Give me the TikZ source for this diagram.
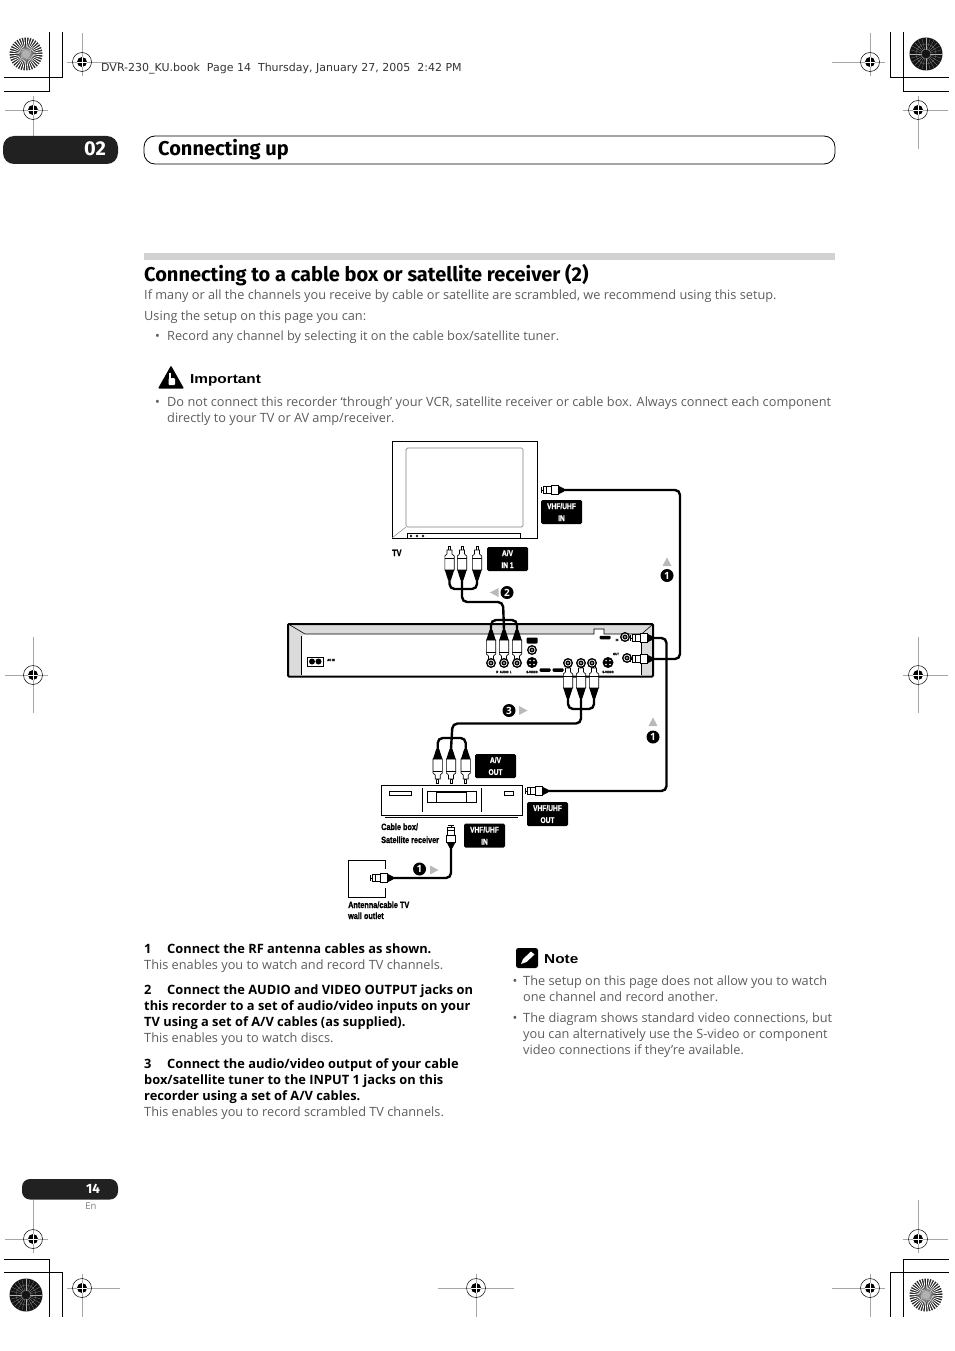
\documentclass[tikz,border=0pt]{standalone}
\usepackage{fontspec}
\setmainfont{Open Sans}
\newfontfamily\headfont{Fira Sans}
\newfontfamily\slugfont{DejaVu Sans}
\newfontfamily\widefont[FakeStretch=1.18]{Liberation Sans}
\newfontfamily\condfont[FakeStretch=0.8,FakeBold=1.2]{Liberation Sans Bold}
\usetikzlibrary{arrows.meta, positioning, calc, backgrounds}

\definecolor{inkbody}{gray}{0.36}
\definecolor{tabblack}{gray}{0.13}
\definecolor{panelgray}{gray}{0.86}

\tikzset{
    burstlight/.pic={
        \fill[black!85] (0,0) circle (16.5);
        \foreach \a in {0,10,...,350} {
            \fill[white] (0,0) -- (\a:17) arc[start angle=\a, end angle=\a+4, radius=17] -- cycle;
        }
        \fill[gray!60] (0,0) circle (4);
    },
    burstdark/.pic={
        \fill[black!92] (0,0) circle (16.5);
        \foreach \a in {0,15,...,345} {
            \draw[gray!60, line width=0.15pt] (\a:4) -- (\a:16);
        }
        \draw[gray, line width=0.25pt] (0,0) circle (5) (0,0) circle (10);
    },
    rcaplug/.pic={
        \draw[plugline, fill=white] (-1,0) rectangle (1,4);
        \draw[plugline, fill=white] (-2.5,4) -- (2.5,4) -- (2.5,8) -- (4.7,10) -- (4.7,24) -- (-4.7,24) -- (-4.7,10) -- (-2.5,8) -- cycle;
        \draw[plugline] (-4.7,12) -- (4.7,12);
        \fill (-4.7,24) -- (4.7,24) -- (1.5,34) -- (-1.5,34) -- cycle;
        \coordinate (-tail) at (0,34);
    },
    coaxplug/.pic={
        \draw[plugline] (0,-3) -- (0,3) (0,0) -- (2,0);
        \draw[plugline, fill=white] (2,-3.5) rectangle (10,3.5);
        \draw[plugline] (5,-3.5) -- (5,3.5);
        \draw[plugline, fill=white] (10,-4.5) -- (17,-4.5) -- (17,4.5) -- (10,4.5) -- cycle;
        \fill (17,-4.5) -- (17,4.5) -- (23,1.5) -- (23,-1.5) -- cycle;
        \coordinate (-tail) at (23,0);
    },
    jack/.pic={
        \fill (0,0) circle (5);
        \draw[white, line width=0.7pt] (0,0) circle (3);
        \fill[white] (0,0) circle (0.8);
    },
    svideo/.pic={
        \fill (0,0) circle (5.5);
        \foreach \a in {45,135,225,315} {\fill[white] (\a:2.8) circle (0.8);}
    },
    arrowmark/.pic={
        \fill[gray!55] (-4,-4.5) -- (4.5,0) -- (-4,4.5) -- cycle;
    }
}

\begin{document}
\begin{tikzpicture}[
    x=1pt, y=-1pt,
    plugline/.style={line width=0.6pt, draw=black},
    cable/.style={line width=2.4pt, line cap=round, rounded corners=5pt},
    cropline/.style={line width=0.8pt},
    bodytext/.style={anchor=base west, inner sep=0pt, text=inkbody, font=\fontsize{12.75}{13}\selectfont},
    boldtext/.style={anchor=base west, inner sep=0pt, text=black, font=\fontsize{12.85}{13}\selectfont\bfseries},
    tag/.style={fill=black, rounded corners=1.5pt, text=white, inner sep=0pt, minimum width=41pt, minimum height=24pt, align=center, font=\condfont\fontsize{8.3}{12}\selectfont},
    caption/.style={anchor=base west, inner sep=0pt, font=\condfont\fontsize{9.1}{10}\selectfont},
    tiny/.style={inner sep=0pt, font=\condfont\fontsize{3.4}{4}\selectfont},
    stepnum/.style={circle, fill=black, text=white, inner sep=0pt, minimum size=13pt, font=\bfseries\fontsize{10}{10}\selectfont},
    pill/.style={fill=black, rounded corners=1pt, inner sep=0pt, minimum width=11pt, minimum height=3.5pt}
]
    \useasboundingbox (0,0) rectangle (954,1351);

    % Crop marks
    \foreach \x/\y/\l/\r/\u/\d in {82/62/15/38/29/14, 33/110/28/15/14/39, 870/62/38/15/29/14, 918/110/15/30/14/39,
        33/675/28/15/38/38, 918/675/15/30/38/38, 33/1239/28/15/39/14, 82/1288/15/38/14/29,
        476/1288/38/38/14/29, 870/1288/38/15/14/29, 918/1239/15/30/39/14} {
        \begin{scope}[shift={(\x,\y)}]
            \draw[gray!70, line width=0.5pt] (-\l,0) -- (\r,0) (0,-\u) -- (0,\d);
            \draw[line width=0.5pt] (0,0) circle (9.5);
            \fill (0,0) circle (5);
            \draw[white, line width=0.7pt] (-5,0) -- (5,0) (0,-5) -- (0,5);
        \end{scope}
    }
    \pic at (26,54) {burstlight};
    \pic at (926,54) {burstdark};
    \pic at (26,1295) {burstdark};
    \pic at (926,1295) {burstlight};
    \draw[cropline] (62,32) -- (62,77) -- (4,77);
    \draw[cropline] (49.5,32) -- (49.5,91) -- (4,91);
    \draw[cropline] (890,32) -- (890,77) -- (949,77);
    \draw[cropline] (903,32) -- (903,91) -- (949,91);
    \draw[cropline] (4,1259) -- (49.5,1259) -- (49.5,1317);
    \draw[cropline] (4,1272) -- (62,1272) -- (62,1317);
    \draw[cropline] (949,1259) -- (903,1259) -- (903,1317);
    \draw[cropline] (949,1272) -- (890,1272) -- (890,1317);

    % Page header
    \node[anchor=base west, inner sep=0pt, text=black!80, font=\slugfont\fontsize{11}{12}\selectfont] (slug) at (101,72) {DVR-230\_KU.book\ \ Page 14\ \ Thursday, January 27, 2005\ \ 2:42 PM};
    \fill[tabblack, rounded corners=11pt] (3,136) rectangle (118,164);
    \node[text=white, inner sep=0pt, font=\headfont\bfseries\fontsize{20}{20}\selectfont] (chapter) at (95,149) {02};
    \draw[line width=0.8pt, rounded corners=11pt] (144,136) rectangle (835,164);
    \node[anchor=base west, inner sep=0pt, font=\headfont\bfseries\fontsize{20}{20}\selectfont] (chaptertitle) at (158,155.5) {Connecting up};
    \fill[gray!35] (144,253) rectangle (835,260);

    % Intro text
    \node[anchor=base west, inner sep=0pt, font=\headfont\bfseries\fontsize{20}{20}\selectfont] (title) at (144,281) {Connecting to a cable box or satellite receiver (2)};
    \node[bodytext] (intro1) at (144,299) {If many or all the channels you receive by cable or satellite are scrambled, we recommend using this setup.};
    \node[bodytext] (intro2) at (144,320) {Using the setup on this page you can:};
    \node[bodytext] (dot1) at (155,340) {•};
    \node[bodytext] (intro3) at (167,340) {Record any channel by selecting it on the cable box/satellite tuner.};
    \fill[rounded corners=1pt] (158,388.5) -- (171,365.5) -- (184,388.5) -- cycle;
    \fill[white] (168.5,373) rectangle (170.5,384);
    \fill[white, rounded corners=1pt] (168.5,378) rectangle (175,385);
    \node[anchor=base west, inner sep=0pt, font=\widefont\bfseries\fontsize{13}{14}\selectfont] (important) at (190,383) {Important};
    \node[bodytext] (dot2) at (155,406) {•};
    \node[bodytext] (warn1) at (167,406) {Do not connect this recorder ‘through’ your VCR, satellite receiver or cable box. Always connect each component};
    \node[bodytext] (warn2) at (167,422) {directly to your TV or AV amp/receiver.};

    % TV
    \draw[line width=0.9pt] (392,441.5) rectangle (537,538);
    \draw[gray, line width=0.7pt, rounded corners=1.5pt] (406,448) rectangle (523,527);
    \draw[gray, line width=0.5pt] (392,538) -- (406,527);
    \draw[line width=0.6pt] (407,538) -- (407,533.5) -- (520.5,533.5) -- (520.5,538);
    \foreach \x in {411,417,423} {\draw[line width=0.4pt] (\x,536) circle (1);}
    \node[caption] (tvname) at (392,556) {TV};
    \pic (tvrf) at (541,490) {coaxplug};
    \pic (tvleft) at (449.5,546) {rcaplug};
    \pic (tvmid) at (462,546) {rcaplug};
    \pic (tvright) at (477,546) {rcaplug};
    \node[tag] (tagrfin) at (561.5,512) {VHF/UHF\\IN};
    \node[tag] (tagavin) at (507.5,559) {A/V\\IN 1};

    % Recorder
    \fill[panelgray] (288,624) -- (653,624) -- (653,675) -- (641.6,675) -- (641.6,634) -- (604,634) -- (604,629) -- (594,629) -- (594,634) -- (305,634) -- (301,637) -- (301,675) -- (288,675) -- cycle;
    \draw[line width=0.6pt] (290,625) -- (305,634) -- (594,634) -- (594,629) -- (604,629) -- (604,634) -- (641.6,634) -- (652,625);
    \draw[line width=0.6pt] (301,636) -- (301,675) (641.6,634) -- (641.6,675);
    \draw[line width=2pt, rounded corners=1pt] (288,624) rectangle (653,676.5);
    \draw[line width=0.7pt, fill=white] (307,657) rectangle (323,666);
    \fill (312,661.5) circle (3) (318.5,661.5) circle (3);
    \node[tiny] (acin) at (331,660) {AC IN};
    \pic[rotate=180] (recl) at (491,664) {rcaplug};
    \pic[rotate=180] (recm) at (504,664) {rcaplug};
    \pic[rotate=180] (recr) at (517,664) {rcaplug};
    \pic (outl) at (568,664) {rcaplug};
    \pic (outm) at (581,664) {rcaplug};
    \pic (outr) at (594,664) {rcaplug};
    \foreach \x in {491,504,517} {\pic at (\x,663) {jack};}
    \node[tiny] (audiolabel) at (504,672) {R\ \ AUDIO\ \ L};
    \node[pill, minimum height=6pt] (pillsv) at (532,640.5) {};
    \pic at (532,650) {jack};
    \pic at (532,662.5) {svideo};
    \node[tiny] (svlabela) at (532,672) {S-VIDEO};
    \node[pill] (pilla) at (545,670) {};
    \node[pill] (pillb) at (558,670) {};
    \foreach \x in {568,581,592} {\pic at (\x,663) {jack};}
    \pic at (608,662.5) {svideo};
    \node[tiny] (svlabelb) at (608,672) {S-VIDEO};
    \node[pill] (pillrf) at (605,637.5) {};
    \node[tiny] (rfinlabel) at (617,640) {IN};
    \node[tiny] (rfoutlabel) at (616,654) {OUT};
    \pic at (625,637) {jack};
    \pic at (627,658) {jack};
    \pic (recrfin) at (630,638) {coaxplug};
    \pic (recrfout) at (630,659) {coaxplug};

    % Cable box
    \draw[line width=0.9pt] (381,785) rectangle (522,815);
    \draw[line width=0.6pt] (385,817) -- (518,817);
    \draw[line width=0.6pt] (389,791) rectangle (411,795);
    \draw[line width=0.6pt] (422,788) -- (422,812) (481,788) -- (481,812);
    \draw[line width=0.6pt] (427,791) rectangle (476,802);
    \draw[line width=0.6pt] (436,792) rectangle (466,802);
    \draw[line width=0.6pt] (504,791) rectangle (513,795);
    \node[caption] (boxname1) at (381,830) {Cable box/};
    \node[caption] (boxname2) at (381,843) {Satellite receiver};
    \pic[rotate=180] (boxl) at (437.7,783) {rcaplug};
    \pic[rotate=180] (boxm) at (451,783) {rcaplug};
    \pic[rotate=180] (boxr) at (465.7,783) {rcaplug};
    \pic (boxrfout) at (525,791) {coaxplug};
    \pic[rotate=-90] (boxrfin) at (451,825) {coaxplug};
    \node[tag] (tagavout) at (495.5,766) {A/V\\OUT};
    \node[tag] (tagrfout) at (547.5,814) {VHF/UHF\\OUT};
    \node[tag] (tagboxin) at (484.5,835.5) {VHF/UHF\\IN};

    % Wall outlet
    \draw[line width=0.9pt] (385,869) -- (385,860) -- (348,860) -- (348,897) -- (385,897) -- (385,888);
    \pic (wallrf) at (370,878) {coaxplug};
    \node[caption] (wall1) at (348,908) {Antenna/cable TV};
    \node[caption] (wall2) at (348,919) {wall outlet};

    % Cable bends
    \coordinate (rfbusa) at (680,600);
    \coordinate (rfbusb) at (666.5,700);
    \coordinate (tvarch) at (463,589);
    \coordinate (avrun) at (503,602);
    \coordinate (recarch) at (504,620);
    \coordinate (outarch) at (581,709);
    \coordinate (boxrun) at (452.5,723.5);
    \coordinate (boxarch) at (451,738);
    \coordinate (wallbend) at (451,878);

    % Draw Cables
    \draw[cable] (tvrf-tail) -- (rfbusa |- tvrf-tail) -- (rfbusa |- recrfout-tail) -- (recrfout-tail);
    \draw[cable] (recrfin-tail) -- (rfbusb |- recrfin-tail) -- (rfbusb |- boxrfout-tail) -- (boxrfout-tail);
    \draw[cable] (boxrfin-tail) -- (wallbend) -- (wallrf-tail);
    \draw[cable] (tvleft-tail) -- (tvleft-tail |- tvarch) -- (tvright-tail |- tvarch) -- (tvright-tail);
    \draw[cable] (tvmid-tail) -- (tvmid-tail |- avrun) -- (avrun) -- (recm-tail);
    \draw[cable] (recl-tail) -- (recl-tail |- recarch) -- (recr-tail |- recarch) -- (recr-tail);
    \draw[cable] (outl-tail) -- (outl-tail |- outarch) -- (outr-tail |- outarch) -- (outr-tail);
    \draw[cable] (outm-tail) -- (outm-tail |- boxrun) -- (boxrun) -- (boxm-tail);
    \draw[cable] (boxl-tail) -- (boxl-tail |- boxarch) -- (boxr-tail |- boxarch) -- (boxr-tail);

    % Step markers
    \node[stepnum] (stepa) at (667,575.5) {1};
    \pic[rotate=90] at (667,562) {arrowmark};
    \node[stepnum] (stepb) at (507,592.5) {2};
    \pic[rotate=180] at (494.5,592.5) {arrowmark};
    \node[stepnum] (stepc) at (509,710.5) {3};
    \pic at (523,710.5) {arrowmark};
    \node[stepnum] (stepd) at (653,737) {1};
    \pic[rotate=90] at (653,722) {arrowmark};
    \node[stepnum] (stepe) at (419.5,869) {1};
    \pic at (434,870) {arrowmark};

    % Steps, left column
    \node[boldtext] (n1) at (144,953) {1};
    \node[boldtext] (s1) at (167,953) {Connect the RF antenna cables as shown.};
    \node[bodytext] (r1) at (144,969) {This enables you to watch and record TV channels.};
    \node[boldtext] (n2) at (144,994) {2};
    \node[boldtext] (s2a) at (167,994) {Connect the AUDIO and VIDEO OUTPUT jacks on};
    \node[boldtext] (s2b) at (144,1010) {this recorder to a set of audio/video inputs on your};
    \node[boldtext] (s2c) at (144,1026) {TV using a set of A/V cables (as supplied).};
    \node[bodytext] (r2) at (144,1042) {This enables you to watch discs.};
    \node[boldtext] (n3) at (144,1068) {3};
    \node[boldtext] (s3a) at (167,1068) {Connect the audio/video output of your cable};
    \node[boldtext] (s3b) at (144,1084) {box/satellite tuner to the INPUT 1 jacks on this};
    \node[boldtext] (s3c) at (144,1100) {recorder using a set of A/V cables.};
    \node[bodytext] (r3) at (144,1116) {This enables you to record scrambled TV channels.};

    % Note, right column
    \fill[rounded corners=2.5pt] (516,948) rectangle (538,968);
    \fill[white] (521,964) -- (523,959) -- (531,951.5) -- (534.5,954.5) -- (526.5,962) -- cycle;
    \node[anchor=base west, inner sep=0pt, font=\widefont\bfseries\fontsize{13}{14}\selectfont] (note) at (544,963) {Note};
    \node[bodytext] (dot3) at (512.5,985) {•};
    \node[bodytext] (note1a) at (523,985) {The setup on this page does not allow you to watch};
    \node[bodytext] (note1b) at (523,1001) {one channel and record another.};
    \node[bodytext] (dot4) at (512.5,1022) {•};
    \node[bodytext] (note2a) at (523,1022) {The diagram shows standard video connections, but};
    \node[bodytext] (note2b) at (523,1038) {you can alternatively use the S-video or component};
    \node[bodytext] (note2c) at (523,1054) {video connections if they’re available.};

    % Page number
    \fill[tabblack, rounded corners=8pt] (22,1179) rectangle (118,1199.5);
    \node[text=white, inner sep=0pt, font=\headfont\bfseries\fontsize{13.5}{14}\selectfont] (pagenum) at (93,1189) {14};
    \node[text=gray, inner sep=0pt, font=\fontsize{9.5}{10}\selectfont] (lang) at (91,1206) {En};
\end{tikzpicture}
\end{document}
